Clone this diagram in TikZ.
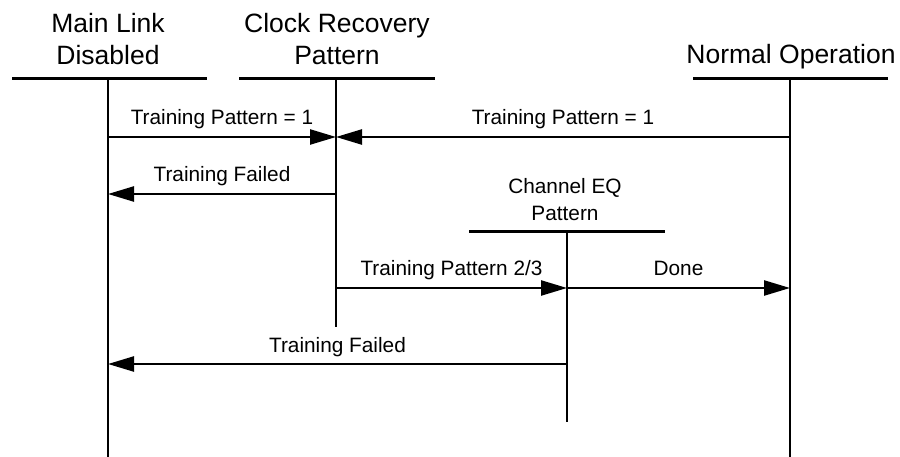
\documentclass[tikz,border=0pt]{standalone}
\usepackage{fontspec}
\setmainfont{Liberation Sans}
\usetikzlibrary{arrows.meta}
\tikzset{
  lifeline/.style={line width=2.2pt},
  headbar/.style={line width=3pt},
  msg/.style={line width=2.4pt, -{Triangle[length=26pt,width=15pt]}},
  bigtxt/.style={font=\fontsize{26.5}{32}\selectfont, align=center, inner sep=0pt, anchor=base},
  smalltxt/.style={font=\fontsize{20.8}{27}\selectfont, align=center, inner sep=0pt, anchor=base},
  msglbl/.style={font=\fontsize{20.8}{26}\selectfont, inner sep=0pt, midway, anchor=base, yshift=12pt}
}
\begin{document}
\begin{tikzpicture}[x=1pt,y=-1pt]
\useasboundingbox (0,0) rectangle (900,457);
% headers
\node[bigtxt] (mlh) at (108,65) {Main Link\\Disabled};
\node[bigtxt] (crh) at (337,65) {Clock Recovery\\Pattern};
\node[bigtxt] (noh) at (791,64) {Normal Operation};
\node[smalltxt] (ceh) at (565,221) {Channel EQ\\Pattern};
% lifeline coordinates
\coordinate (mlL) at (12,79);   \coordinate (mlR) at (207,79);
\coordinate (crL) at (239,79);  \coordinate (crR) at (435,79);
\coordinate (noL) at (693,79);  \coordinate (noR) at (888,79);
\coordinate (ceL) at (469,232); \coordinate (ceR) at (665,232);
\coordinate (mlT) at (108,79);  \coordinate (mlB) at (108,457);
\coordinate (crT) at (336,79);  \coordinate (crB) at (336,327);
\coordinate (noT) at (790,79);  \coordinate (noB) at (790,457);
\coordinate (ceT) at (567,232); \coordinate (ceB) at (567,422);
\draw[headbar] (mlL) -- (mlR);
\draw[headbar] (crL) -- (crR);
\draw[headbar] (noL) -- (noR);
\draw[headbar] (ceL) -- (ceR);
\draw[lifeline] (mlT) -- (mlB);
\draw[lifeline] (crT) -- (crB);
\draw[lifeline] (noT) -- (noB);
\draw[lifeline] (ceT) -- (ceB);
% message endpoints
\coordinate (ml1) at (108,137); \coordinate (cr1) at (336,137); \coordinate (no1) at (790,137);
\coordinate (ml2) at (108,194); \coordinate (cr2) at (336,194);
\coordinate (cr3) at (336,288); \coordinate (ce3) at (567,288); \coordinate (no3) at (790,288);
\coordinate (ml4) at (108,364); \coordinate (ce4) at (567,364);
% messages
\draw[msg] (ml1) -- node[msglbl] {Training Pattern = 1} (cr1);
\draw[msg] (no1) -- node[msglbl] {Training Pattern = 1} (cr1);
\draw[msg] (cr2) -- node[msglbl] {Training Failed} (ml2);
\draw[msg] (cr3) -- node[msglbl] {Training Pattern 2/3} (ce3);
\draw[msg] (ce3) -- node[msglbl] {Done} (no3);
\draw[msg] (ce4) -- node[msglbl] {Training Failed} (ml4);
\end{tikzpicture}
\end{document}
